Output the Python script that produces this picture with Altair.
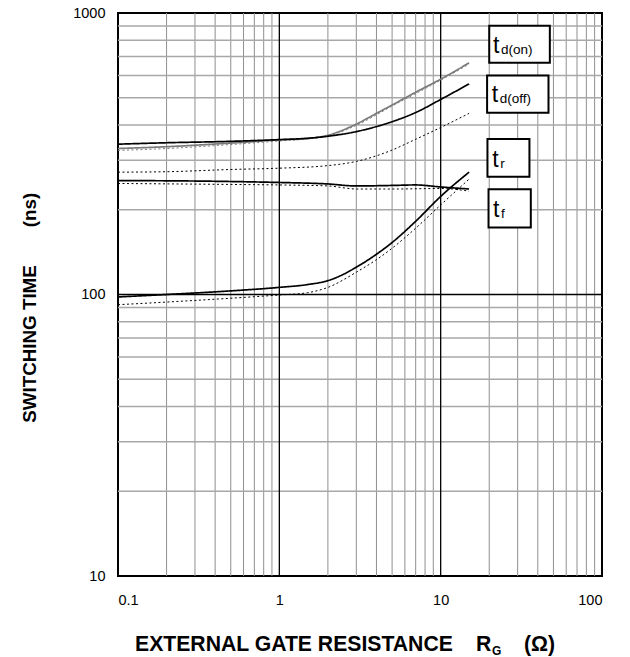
import altair as alt
import pandas as pd

# ---- axis tick labels ----
x_ticks = [0.1, 1, 10, 100]
y_ticks = [10, 100, 1000]
grid_mult = [2, 3, 4, 5, 6, 7, 8, 9]
x_decades = [0.1, 1, 10]
y_decades = [10, 100]
x_major = [1, 10]
y_major = [100]

# ---- curves: external gate resistance (ohm) vs switching time (ns) ----
tdon_R = [0.1, 0.2, 0.5, 1, 1.5, 2, 3, 4, 5, 7, 10, 15]
tdon_t = [330, 335, 345, 354, 358, 368, 403, 440, 471, 523, 582, 665]

tdon_d_R = [0.1, 0.2, 0.5, 1, 1.5, 2, 3, 5, 10, 15]
tdon_d_t = [325, 330, 341, 351, 357, 365, 399, 467, 577, 658]

tdoff_R = [0.1, 0.2, 0.5, 1, 1.5, 2, 3, 4, 5, 7, 10, 15]
tdoff_t = [342, 346, 350, 355, 359, 365, 379, 395, 411, 443, 493, 560]

tdoff_d_R = [0.1, 0.2, 0.5, 1, 2, 3, 4, 5, 7, 10, 15]
tdoff_d_t = [272, 273, 278, 281, 287, 297, 311, 326, 356, 392, 440]

tr_R = [0.1, 0.5, 1, 2, 3, 5, 7, 10, 15]
tr_t = [254, 252, 250, 247, 243, 244, 245, 241, 237]

tr_d_R = [0.1, 0.5, 1, 2, 3, 5, 10, 15]
tr_d_t = [248, 246, 245, 243, 237, 237, 238, 233]

tf_R = [0.1, 0.2, 0.5, 1, 1.5, 2, 2.5, 3, 4, 5, 7, 10, 15]
tf_t = [98, 100, 103, 106, 108.5, 112, 118, 125, 139, 153, 182, 223, 272]

tf_d_R = [0.1, 0.2, 0.5, 1, 1.5, 2, 3, 4, 5, 7, 10, 15]
tf_d_t = [92, 94, 97, 99.6, 101.5, 106, 120, 133, 146, 172, 208, 257]

# ---- legend boxes (data units) ----
box_names = ["td(on)", "td(off)", "tr", "tf"]
box_x1 = [20.0, 19.4, 19.5, 19.8]
box_x2 = [47.5, 46.6, 35.5, 36.2]
box_y1 = [901, 600, 357, 236.5]
box_y2 = [666, 442, 262, 173]
lab_x = [21.1, 20.7, 20.9, 21.1]
lab_y = [719, 484, 284, 188]
lab_main = ["t", "t", "t", "t"]
lab_sub = ["d(on)", "d(off)", "r", "f"]

FONT = "Liberation Sans"

rows = []
for name, kind, R, T in [
    ("td(on)", "solid", tdon_R, tdon_t),
    ("td(on)", "dotted", tdon_d_R, tdon_d_t),
    ("td(off)", "solid", tdoff_R, tdoff_t),
    ("td(off)", "dotted", tdoff_d_R, tdoff_d_t),
    ("tr", "solid", tr_R, tr_t),
    ("tr", "dotted", tr_d_R, tr_d_t),
    ("tf", "solid", tf_R, tf_t),
    ("tf", "dotted", tf_d_R, tf_d_t),
]:
    for r, v in zip(R, T):
        rows.append({"R": r, "t": v, "series": name, "kind": kind})
curves = pd.DataFrame(rows)

vgrid = pd.DataFrame({"R": [m * d for d in x_decades for m in grid_mult]})
hgrid = pd.DataFrame({"t": [m * d for d in y_decades for m in grid_mult]})
vmaj = pd.DataFrame({"R": x_major})
hmaj = pd.DataFrame({"t": y_major})
boxes = pd.DataFrame({"name": box_names, "x1": box_x1, "x2": box_x2,
                      "y1": box_y1, "y2": box_y2})
labels = pd.DataFrame({"x": lab_x, "y": lab_y, "main": lab_main, "sub": lab_sub})

xs = alt.Scale(type="log", domain=[0.1, 100], nice=False)
ys = alt.Scale(type="log", domain=[10, 1000], nice=False)
xaxis = alt.Axis(values=x_ticks, format="~g", title=None, grid=False, ticks=False,
                 tickSize=0, domain=False, labelFont=FONT, labelFontSize=14.5,
                 labelColor="black", labelPadding=17)
yaxis = alt.Axis(values=y_ticks, format="~g", title=None, grid=False, ticks=False,
                 tickSize=0, domain=False, labelFont=FONT, labelFontSize=14.5,
                 labelColor="black", labelPadding=13)


def X(f):
    return alt.X(f, type="quantitative", scale=xs, axis=xaxis)


def Y(f):
    return alt.Y(f, type="quantitative", scale=ys, axis=yaxis)


vg = alt.Chart(vgrid).mark_rule(color="#8f8f8f", strokeWidth=1).encode(x=X("R"))
hg = alt.Chart(hgrid).mark_rule(color="#a8a8a8", strokeWidth=1.5).encode(y=Y("t"))
vm = alt.Chart(vmaj).mark_rule(color="#000000", strokeWidth=1.3).encode(x=X("R"))
hm = alt.Chart(hmaj).mark_rule(color="#000000", strokeWidth=1.3).encode(y=Y("t"))

lines = alt.Chart(curves).mark_line(clip=True, interpolate="monotone").encode(
    x=X("R"),
    y=Y("t"),
    detail=["series:N", "kind:N"],
    color=alt.Color("series:N", legend=None,
                    scale=alt.Scale(domain=["td(on)", "td(off)", "tr", "tf"],
                                    range=["#7a7a7a", "#000000", "#000000", "#000000"])),
    strokeDash=alt.StrokeDash("kind:N", legend=None,
                              scale=alt.Scale(domain=["solid", "dotted"],
                                              range=[[1, 0], [2, 2.5]])),
    strokeWidth=alt.StrokeWidth("kind:N", legend=None,
                                scale=alt.Scale(domain=["solid", "dotted"],
                                                range=[1.7, 1.0])),
)

box = alt.Chart(boxes).mark_rect(fill="white", stroke="black", strokeWidth=2).encode(
    x=X("x1"), x2="x2", y=Y("y1"), y2="y2")

tmain = alt.Chart(labels).mark_text(align="left", baseline="alphabetic", font=FONT,
                                    fontSize=23, color="black").encode(
    x=X("x"), y=Y("y"), text="main:N")
tsub = alt.Chart(labels).mark_text(align="left", baseline="alphabetic", font=FONT,
                                   fontSize=13.5, color="black", dx=8, dy=1).encode(
    x=X("x"), y=Y("y"), text="sub:N")

one = pd.DataFrame({"k": [0]})


def txt(s, x, y, size, align="left", angle=0, baseline="alphabetic"):
    kw = dict(align=align, baseline=baseline, font=FONT, fontSize=size,
              fontWeight="bold", color="black")
    if angle:
        kw["angle"] = angle
    return alt.Chart(one).mark_text(**kw).encode(
        x=alt.value(x), y=alt.value(y), text=alt.value(s))


titles = [
    txt("EXTERNAL GATE RESISTANCE", 17, 638, 21.2),
    txt("R", 358, 638, 21.2),
    txt("G", 374, 642, 12),
    txt("(Ω)", 406, 638, 21.2),
    txt("SWITCHING TIME", -88, 331, 18.8, align="center", angle=270, baseline="middle"),
    txt("(ns)", -88, 197, 18.8, align="center", angle=270, baseline="middle"),
]

chart = alt.layer(vg, hg, vm, hm, lines, box, tmain, tsub, *titles).properties(
    width=484, height=563,
    autosize=alt.AutoSizeParams(type="none"),
    padding={"left": 118, "top": 13, "right": 28, "bottom": 81},
    background="white",
).configure_view(stroke="black", strokeWidth=2)

chart.save("out.html", embed_options={"renderer": "svg", "actions": False})
